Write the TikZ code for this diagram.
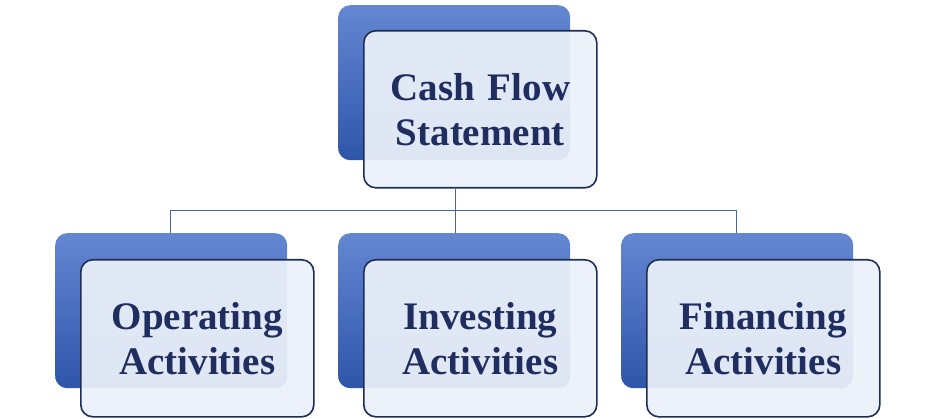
\documentclass[tikz,border=0pt]{standalone}
\usepackage{fontspec}
\setmainfont{Liberation Serif}
\begin{document}
\begin{tikzpicture}[x=1pt,y=-1pt,
  backbox/.style={rounded corners=12pt,top color={rgb,255:red,100;green,135;blue,210}, bottom color={rgb,255:red,47;green,85;blue,170}, draw=none, minimum width=232pt, minimum height=155pt, anchor=north west},
  frontbox/.style={rounded corners=12pt,fill={rgb,255:red,236;green,241;blue,250},fill opacity=0.93,text opacity=1, draw={rgb,255:red,31;green,45;blue,85}, line width=1.6pt, minimum width=233pt, minimum height=157pt, anchor=north west, text width=220pt, align=center, font=\fontsize{39}{45}\selectfont\bfseries, text={rgb,255:red,31;green,45;blue,95}},
  conn/.style={draw={rgb,255:red,70;green,100;blue,170}, line width=0.8pt}]
\useasboundingbox (0,0) rectangle (933,419);
\node[backbox] (tb) at (338,5) {};
\node[backbox] (lb) at (55,233) {};
\node[backbox] (mb) at (338,233) {};
\node[backbox] (rb) at (621,233) {};
\coordinate (j) at (455,210);
\coordinate (jl) at (170,210);
\coordinate (jr) at (736,210);
\node[frontbox] (t) at (363,30) {Cash Flow\\Statement};
\draw[conn] (j|-t.south) -- (j) (jl) -- (jr) (jl) -- (jl|-lb.north) (j) -- (j|-mb.north) (jr) -- (jr|-rb.north);
\node[frontbox] (l) at (80,259) {Operating\\Activities};
\node[frontbox] (m) at (363,259) {Investing\\Activities};
\node[frontbox] (r) at (646,259) {Financing\\Activities};
\end{tikzpicture}
\end{document}
